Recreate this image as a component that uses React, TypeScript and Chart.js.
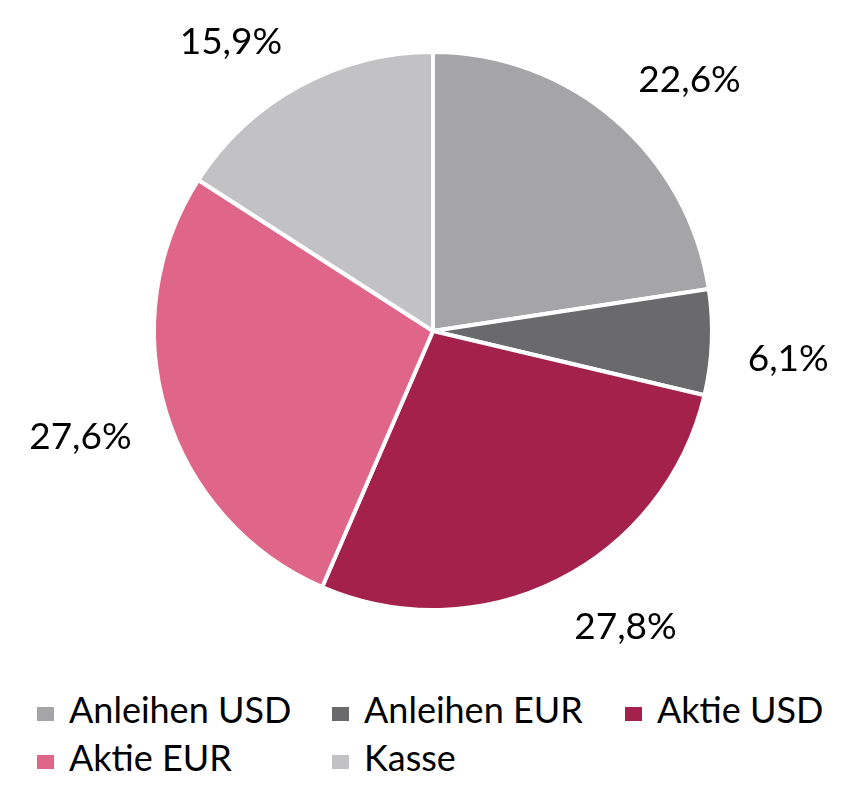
import React, { useEffect, useRef } from "react";
import { Chart, registerables } from "chart.js";

Chart.register(...registerables);

const categories = ["Anleihen USD", "Anleihen EUR", "Aktie USD", "Aktie EUR", "Kasse"];
const shares = [22.6, 6.1, 27.8, 27.6, 15.9];
const sliceColors = ["#A5A5A7", "#6A6A6C", "#A3214A", "#DF6688", "#C2C2C4"];

const FONT = "Lato, 'Open Sans', sans-serif";

const fmt = (v: number) => v.toFixed(1).replace(".", ",") + "%";

const outsideLabels = {
  id: "outsideLabels",
  afterDatasetsDraw(chart: any) {
    const ctx = chart.ctx;
    const meta = chart.getDatasetMeta(0);
    const ds = chart.data.datasets[0];
    ctx.save();
    ctx.font = `37px ${FONT}`;
    ctx.fillStyle = "#000";
    ctx.textAlign = "center";
    ctx.textBaseline = "alphabetic";
    const capH = 37 * 0.72;
    const gap = 36;
    meta.data.forEach((arc: any, i: number) => {
      const { x, y, startAngle, endAngle, outerRadius } = arc.getProps(
        ["x", "y", "startAngle", "endAngle", "outerRadius"],
        true
      );
      const mid = (startAngle + endAngle) / 2;
      const text = fmt(ds.data[i]);
      const w = ctx.measureText(text).width;
      const c = Math.cos(mid);
      const s = Math.sin(mid);
      const d = outerRadius + gap;
      // anchor point outside the arc; the text box's nearest corner touches it
      const ax = x + c * d;
      const ay = y + s * d;
      const cx = ax + Math.sign(c) * (w / 2);
      const cy = ay + Math.sign(s) * (capH / 2);
      ctx.fillText(text, cx, cy + capH / 2);
    });
    ctx.restore();
  },
};

export default function App() {
  const canvasRef = useRef<HTMLCanvasElement | null>(null);

  useEffect(() => {
    if (!canvasRef.current) return;
    const chart = new Chart(canvasRef.current, {
      type: "pie",
      data: {
        labels: categories,
        datasets: [
          {
            data: shares,
            backgroundColor: sliceColors,
            borderColor: "#FFFFFF",
            borderWidth: 4,
            hoverOffset: 0,
          },
        ],
      },
      options: {
        animation: false,
        responsive: true,
        maintainAspectRatio: false,
        layout: { padding: { top: 50, bottom: 68, left: 22, right: 0 } },
        plugins: {
          legend: { display: false },
          tooltip: { enabled: false },
        },
      },
      plugins: [outsideLabels],
    });
    return () => chart.destroy();
  }, []);

  const colX = [37, 332, 625];
  const rowTop = [691, 739];

  return (
    <div style={{ position: "absolute", left: 0, top: 0, width: 844, height: 798, background: "#fff", overflow: "hidden" }}>
      <div style={{ position: "absolute", left: 0, top: 0, width: 844, height: 680 }}>
        <canvas ref={canvasRef} />
      </div>
      {categories.map((name, i) => (
        <div
          key={name}
          style={{
            position: "absolute",
            left: colX[i % 3],
            top: rowTop[Math.floor(i / 3)],
            height: 40,
            whiteSpace: "nowrap",
            fontFamily: FONT,
            fontSize: 36,
            lineHeight: "36px",
            color: "#000",
          }}
        >
          <span
            style={{
              position: "absolute",
              left: 0,
              top: 16,
              width: 17,
              height: 14,
              background: sliceColors[i],
            }}
          />
          <span style={{ position: "absolute", left: 32, top: 0 }}>{name}</span>
        </div>
      ))}
    </div>
  );
}
